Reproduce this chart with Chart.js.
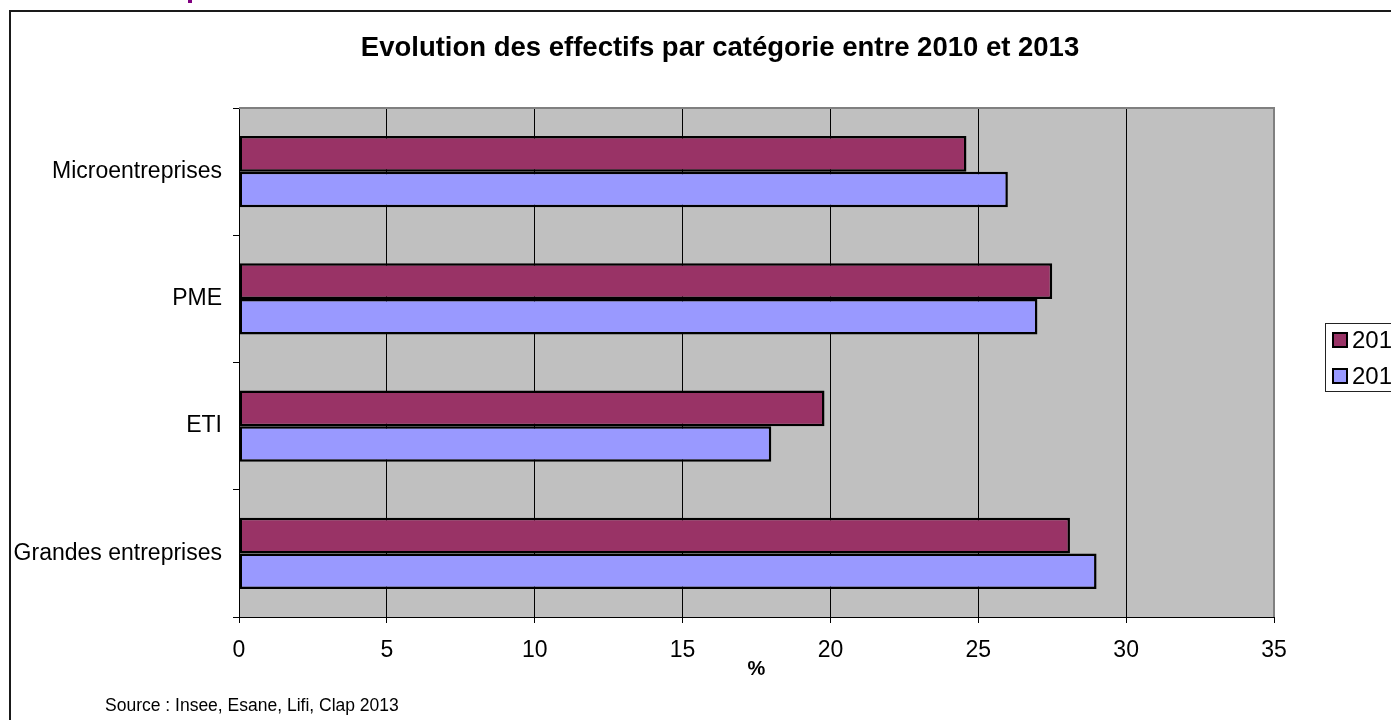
<!DOCTYPE html>
<html>
<head>
<meta charset="utf-8">
<script src="https://cdn.jsdelivr.net/npm/chart.js@4"></script>
<style>
  html, body { margin: 0; padding: 0; background: #fff; overflow: hidden; width: 1391px; height: 720px; }
  #frame { position: absolute; left: 9px; top: 10px; width: 1420px; height: 720px; border: 2px solid #1a1a1a; background: #fff; }
  #mark { position: absolute; left: 188px; top: 0; width: 4px; height: 3px; background: #800080; }
  canvas { display: block; }
</style>
</head>
<body>
<div id="mark"></div>
<div id="frame"><canvas id="chart" width="1420" height="720"></canvas></div>
<script>
// Evolution des effectifs par catégorie, 2010 vs 2013 (%)
const categories = ['Microentreprises', 'PME', 'ETI', 'Grandes entreprises'];
const values2013 = [24.6, 27.5, 19.8, 28.1];
const values2010 = [26.0, 27.0, 18.0, 29.0];
const seriesLabels = ['2013', '2010'];
const xTicks = { min: 0, max: 35, step: 5 };

const FONT = "'Liberation Sans', Arial, sans-serif";
const TITLE = 'Evolution des effectifs par catégorie entre 2010 et 2013';

// grey plot area, grey top/right border, title, boxed legend, source line
const excelLook = {
  id: 'excelLook',
  beforeDraw(chart) {
    const { ctx, chartArea: a } = chart;
    ctx.save();
    ctx.fillStyle = '#c0c0c0';
    ctx.fillRect(a.left, a.top, a.right - a.left, a.bottom - a.top);
    ctx.restore();
  },
  afterDraw(chart) {
    const { ctx, chartArea: a } = chart;
    ctx.save();
    ctx.strokeStyle = '#808080';
    ctx.lineWidth = 2;
    ctx.beginPath();
    ctx.moveTo(a.left, a.top);
    ctx.lineTo(a.right, a.top);
    ctx.lineTo(a.right, a.bottom);
    ctx.stroke();

    // title, centred on the whole frame
    ctx.fillStyle = '#000';
    ctx.font = 'bold 27.5px ' + FONT;
    ctx.textAlign = 'center';
    ctx.textBaseline = 'middle';
    ctx.fillText(TITLE, 709, 36);

    // legend
    const lx = 1314, ly = 311;
    ctx.textAlign = 'left';
    ctx.strokeStyle = '#222';
    ctx.lineWidth = 1;
    ctx.strokeRect(lx + 0.5, ly + 0.5, 120, 68);
    ctx.font = '24px ' + FONT;
    chart.data.datasets.forEach((ds, i) => {
      const y = ly + 17 + i * 36;
      ctx.fillStyle = ds.backgroundColor;
      ctx.fillRect(lx + 8, y - 7, 14, 14);
      ctx.strokeStyle = '#000';
      ctx.lineWidth = 2;
      ctx.strokeRect(lx + 8, y - 7, 14, 14);
      ctx.fillStyle = '#000';
      ctx.fillText(ds.label, lx + 27, y + 1);
    });

    // source
    ctx.font = '17.5px ' + FONT;
    ctx.fillStyle = '#000';
    ctx.fillText('Source : Insee, Esane, Lifi, Clap 2013', 94, 694);
    ctx.restore();
  }
};

new Chart(document.getElementById('chart'), {
  type: 'bar',
  data: {
    labels: categories,
    datasets: [
      { label: seriesLabels[0], data: values2013, backgroundColor: '#993366' },
      { label: seriesLabels[1], data: values2010, backgroundColor: '#9999ff' }
    ]
  },
  options: {
    indexAxis: 'y',
    responsive: false,
    animation: false,
    layout: { padding: { left: 0, right: 157, top: 96, bottom: 51 } },
    datasets: {
      bar: {
        borderColor: '#000',
        borderWidth: 2.5,
        borderSkipped: false,
        barPercentage: 1,
        categoryPercentage: 0.56
      }
    },
    plugins: {
      legend: { display: false },
      tooltip: { enabled: false },
      title: { display: false }
    },
    scales: {
      x: {
        min: xTicks.min,
        max: xTicks.max,
        ticks: { stepSize: xTicks.step, color: '#000', font: { family: FONT, size: 23 }, padding: 14, maxRotation: 0 },
        grid: {
          color: c => (c.tick && c.tick.value === xTicks.max) ? '#808080' : '#000',
          tickColor: '#000',
          tickLength: 6,
          lineWidth: 1
        },
        border: { color: '#000', width: 1 },
        title: {
          display: true,
          text: '%',
          color: '#000',
          font: { family: FONT, size: 20, weight: 'bold' },
          padding: 0
        },
        afterFit(s) { s.height = 64; }
      },
      y: {
        ticks: { color: '#000', font: { family: FONT, size: 23 }, padding: 11 },
        grid: { drawOnChartArea: false, tickLength: 6, color: '#000', tickColor: '#000' },
        border: { color: '#000', width: 1 },
        afterFit(s) { s.width = 228; }
      }
    }
  },
  plugins: [excelLook]
});
</script>
</body>
</html>
